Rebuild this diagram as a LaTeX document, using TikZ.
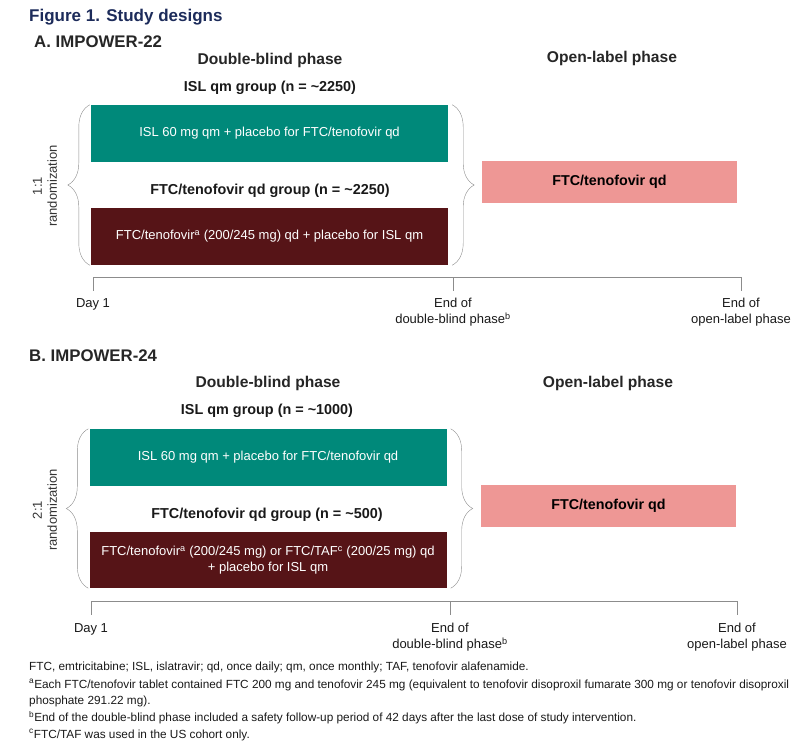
\documentclass[tikz,border=0pt]{standalone}
\usepackage{fontspec}
\setmainfont{Liberation Sans}
\usetikzlibrary{ positioning, decorations.pathreplacing }
\definecolor{titlenavy}{HTML}{1C2B5A}
\definecolor{armteal}{HTML}{00897A}
\definecolor{armmaroon}{HTML}{561417}
\definecolor{armpink}{HTML}{EE9795}
\definecolor{linegray}{HTML}{8C8C8C}
\tikzset{
every node/.style={inner sep=1pt}, % tight text nodes
heading/.style={anchor=west, font=\bfseries\fontsize{16.8}{19}\selectfont, text=black!85},
phase/.style={font=\bfseries\fontsize{15.6}{18}\selectfont, text=black!85},
group/.style={font=\bfseries\fontsize{14.4}{17}\selectfont, text=black!90},
arm/.style={minimum width=357pt, minimum height=57pt, inner sep=0pt, align=center,
  text=white, font=\fontsize{13}{15.7}\selectfont}, % double-blind treatment boxes
openarm/.style={fill=armpink, minimum width=255pt, minimum height=42pt, inner sep=0pt,
  font=\bfseries\fontsize{14.3}{16}\selectfont},
brace/.style={draw=linegray, decorate, decoration={brace, amplitude=22pt}},
ratio/.style={rotate=90, align=center, text=black!80, font=\fontsize{13}{15}\selectfont},
timeline/.style={draw=linegray, thin},
tick/.style={align=center, text=black!90, font=\fontsize{13}{16}\selectfont},
note/.style={anchor=west, align=left, text=black!90, font=\fontsize{11.8}{16.5}\selectfont},
}

\begin{document}
\begin{tikzpicture}[x=1pt, y=-1pt]
  \useasboundingbox (0,0) rectangle (810,753);

  \node[anchor=west, font=\bfseries\fontsize{17}{19}\selectfont, text=titlenavy] (title) at (28,17) {Figure 1. Study designs};

  % A. IMPOWER-22
  \node[heading] (headA) at (33,42) {A. IMPOWER-22};
  \node[phase] (dbA) at (270,60) {Double-blind phase};
  \node[phase] (olA) at (612,58) {Open-label phase};
  \node[group] (islA) at (270,88) {ISL qm group (n = \textasciitilde 2250)};
  \node[arm, fill=armteal] (tealA) at (269.5,133.5) {ISL 60 mg qm + placebo for FTC/tenofovir qd};
  \node[group] (ftcA) at (270,191) {FTC/tenofovir qd group (n = \textasciitilde 2250)};
  \node[arm, fill=armmaroon] (maroonA) at (269.5,236.5) {FTC/tenofovir\textsuperscript{a} (200/245 mg) qd + placebo for ISL qm};
  \node[openarm] (pinkA) at (609.5,182) {FTC/tenofovir qd};
  \node[ratio] (randA) at (45,186) {1:1\\randomization};

  \draw[brace] ([xshift=-1pt]maroonA.south west) -- ([xshift=-1pt]tealA.north west);
  \draw[brace] ([xshift=4pt]tealA.north east) -- ([xshift=4pt]maroonA.south east);

  \coordinate (dayA) at (93,277);
  \coordinate (endDbA) at (453,277);
  \coordinate (endOlA) at (741,277);
  \draw[timeline] (dayA) -- (endOlA);
  \foreach \t in {dayA, endDbA, endOlA}
    \draw[timeline] (\t) -- ++(0,14);
  \node[tick, anchor=north] (lblDayA) at (93,297) {Day 1};
  \node[tick, anchor=north] (lblDbA) at (453,297) {End of\\double-blind phase\textsuperscript{b}};
  \node[tick, anchor=north] (lblOlA) at (741,297) {End of\\open-label phase};

  % B. IMPOWER-24
  \node[heading] (headB) at (28,356) {B. IMPOWER-24};
  \node[phase] (dbB) at (268,383) {Double-blind phase};
  \node[phase] (olB) at (608,383) {Open-label phase};
  \node[group] (islB) at (267,411) {ISL qm group (n = \textasciitilde 1000)};
  \node[arm, fill=armteal] (tealB) at (268,457.5) {ISL 60 mg qm + placebo for FTC/tenofovir qd};
  \node[group] (ftcB) at (267,515) {FTC/tenofovir qd group (n = \textasciitilde 500)};
  \node[arm, fill=armmaroon, minimum height=56pt] (maroonB) at (268,560) {FTC/tenofovir\textsuperscript{a} (200/245 mg) or FTC/TAF\textsuperscript{c} (200/25 mg) qd\\+ placebo for ISL qm};
  \node[openarm] (pinkB) at (608.5,506) {FTC/tenofovir qd};
  \node[ratio] (randB) at (45,510) {2:1\\randomization};

  \draw[brace] ([xshift=-1pt]maroonB.south west) -- ([xshift=-1pt]tealB.north west);
  \draw[brace] ([xshift=4pt]tealB.north east) -- ([xshift=4pt]maroonB.south east);

  \coordinate (dayB) at (91,601);
  \coordinate (endDbB) at (450,601);
  \coordinate (endOlB) at (737,601);
  \draw[timeline] (dayB) -- (endOlB);
  \foreach \t in {dayB, endDbB, endOlB}
    \draw[timeline] (\t) -- ++(0,14);
  \node[tick, anchor=north] (lblDayB) at (91,622) {Day 1};
  \node[tick, anchor=north] (lblDbB) at (450,622) {End of\\double-blind phase\textsuperscript{b}};
  \node[tick, anchor=north] (lblOlB) at (737,622) {End of\\open-label phase};

  % footnotes
  \node[note] (abbr) at (28,667) {FTC, emtricitabine; ISL, islatravir; qd, once daily; qm, once monthly; TAF, tenofovir alafenamide.};
  \node[note, anchor=north west] (noteA) at (28,678) {\textsuperscript{a}Each FTC/tenofovir tablet contained FTC 200 mg and tenofovir 245 mg (equivalent to tenofovir disoproxil fumarate 300 mg or tenofovir disoproxil\\phosphate 291.22 mg).};
  \node[note] (noteB) at (28,718) {\textsuperscript{b}End of the double-blind phase included a safety follow-up period of 42 days after the last dose of study intervention.};
  \node[note] (noteC) at (28,735) {\textsuperscript{c}FTC/TAF was used in the US cohort only.};
\end{tikzpicture}
\end{document}
